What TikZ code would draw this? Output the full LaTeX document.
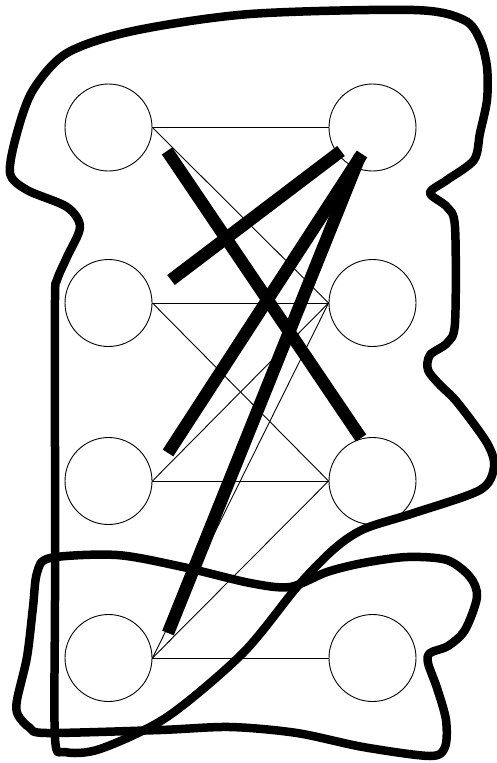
\documentclass[tikz,border=0pt]{standalone}
\begin{document}
\begin{tikzpicture}[x=1pt,y=-1pt,
  vtx/.style={circle,draw,line width=0.9pt,minimum size=87pt,inner sep=0pt},
  thinedge/.style={line width=0.9pt},
  heavy/.style={line width=12.5pt},
  blob/.style={line width=8.5pt,line join=round}]
\useasboundingbox (0,0) rectangle (497,763);
% vertices
\node[vtx] (l1) at (108.5,127.5) {};
\node[vtx] (l2) at (108.5,303) {};
\node[vtx] (l3) at (108.5,481) {};
\node[vtx] (l4) at (108.5,658) {};
\node[vtx] (r1) at (372.5,127.5) {};
\node[vtx] (r2) at (372.5,303) {};
\node[vtx] (r3) at (372.5,481) {};
\node[vtx] (r4) at (372.5,658) {};
% thin edges
\draw[thinedge] (l1.east) -- (r1.west);
\draw[thinedge] (l1.east) -- (r2.west);
\draw[thinedge] (l2.east) -- (r2.west);
\draw[thinedge] (l2.east) -- (r3.west);
\draw[thinedge] (l3.east) -- (r3.west);
\draw[thinedge] (l3.east) -- (r2.west);
\draw[thinedge] (l4.east) -- (r3.west);
\draw[thinedge] (l4.east) -- (r2.west);
\draw[thinedge] (l4.east) -- (r4.west);
% heavy strokes
\coordinate (a1) at (167,151);
\coordinate (a2) at (361,438);
\coordinate (b1) at (341,151);
\coordinate (b2) at (171,280);
\coordinate (c1) at (362,154);
\coordinate (c2) at (168,453);
\coordinate (d1) at (360,156);
\coordinate (d2) at (168,633);
\draw[heavy] (a1) -- (a2);
\draw[heavy] (b1) -- (b2);
\draw[heavy] (c1) -- (c2);
\draw[heavy] (d1) -- (d2);
% big upper loop
\draw[blob] plot[smooth cycle,tension=0.5] coordinates {
 (55,300) (57,280) (67,257) (80,227) (67,207) (27,190) (10,173) (17,133)
 (33,90) (67,53) (133,31) (250,14) (414,10) (464,20) (480,40) (487,67)
 (487,100) (480,133) (474,160) (447,180) (430,193) (447,207) (455,227)
 (455,323) (447,343) (430,355) (428,370) (440,385) (457,402) (487,443)
 (494,467) (480,490) (414,513) (364,529) (334,549) (297,587) (243,653)
 (167,717) (100,749) (65,752) (55,738) (55,600) (55,450)};
% lower loop
\draw[blob] plot[smooth cycle,tension=0.5] coordinates {
 (50,558) (117,555) (183,567) (250,583) (290,587) (327,572) (363,563)
 (407,557) (447,560) (470,577) (477,597) (465,630) (448,646) (430,653)
 (428,663) (437,688) (446,720) (445,747) (430,756) (363,747) (297,733)
 (230,727) (160,730) (47,733) (30,728) (18,715) (17,700) (27,657)
 (33,607) (37,573)};
\end{tikzpicture}
\end{document}
